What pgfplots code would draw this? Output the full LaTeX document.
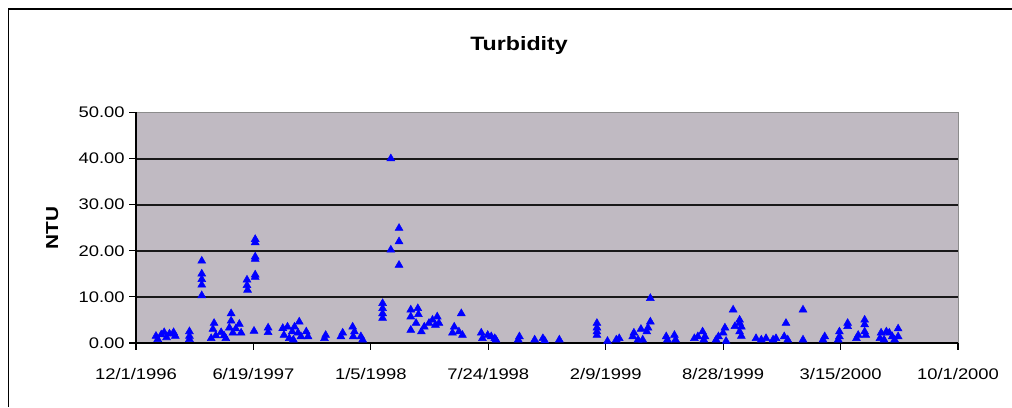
\documentclass[border=0pt]{standalone}
\usepackage{fontspec}
\setmainfont{Liberation Sans}[FakeStretch=1.2]
\usepackage{pgfplots}
\pgfplotsset{compat=1.18}
\definecolor{plotgray}{RGB}{192,186,194}

% days counted from 12/1/1996, turbidity in NTU
\pgfplotstableread{
day ntu
34 1.5
37 0.8
43 1.8
48 2.3
52 1.2
57 2.0
64 2.3
67 1.5
91 2.5
91 1.5
91 0.8
112 17.8
112 15.0
112 13.8
112 12.6
112 10.3
128 1.0
131 3.0
133 4.3
136 1.6
145 2.3
150 1.6
153 1.0
159 3.3
162 6.4
162 4.8
165 2.2
170 3.1
176 4.1
179 2.2
189 13.7
189 12.5
190 11.5
201 2.6
203 22.5
203 21.8
203 18.7
203 18.2
203 14.8
203 14.3
225 3.3
225 2.3
250 3.2
252 1.7
258 3.5
261 1.0
266 2.45
268 0.7
270 3.5
276 2.2
278 4.6
281 1.4
290 2.45
293 1.4
321 1.0
323 1.7
349 1.4
352 2.2
369 3.5
372 2.45
370 1.4
383 1.4
386 0.7
420 8.6
420 7.5
420 6.4
420 5.4
434 40.0
434 20.2
448 24.9
448 22.0
448 16.9
468 7.2
480 7.5
468 5.7
481 6.2
468 2.8
477 4.3
486 2.45
491 3.5
499 4.3
505 5.0
513 5.7
510 3.9
516 4.3
554 6.4
542 3.5
539 2.2
550 2.45
556 1.7
588 2.2
590 1.0
599 1.7
605 1.4
611 1.0
613 0.7
653 1.4
651 0.7
679 0.7
693 1.0
696 0.5
721 0.7
785 4.3
785 3.3
785 2.45
785 1.7
803 0.4
818 0.7
823 1.0
846 1.4
848 2.2
855 0.7
860 3.0
863 0.7
870 2.45
872 3.3
876 9.7
876 4.6
903 1.4
905 0.7
917 1.7
919 0.7
951 1.0
957 1.4
965 2.45
967 0.7
969 1.4
988 0.7
992 1.4
1000 2.2
1003 3.3
1005 0.4
1017 7.2
1020 3.6
1028 4.3
1028 5.0
1028 2.45
1031 3.5
1031 1.5
1056 1.0
1065 0.7
1073 1.0
1085 0.7
1090 1.0
1104 1.4
1107 4.3
1110 0.7
1136 7.2
1136 0.7
1170 0.7
1173 1.4
1198 1.4
1198 2.45
1196 0.7
1212 4.3
1212 3.6
1227 1.0
1230 1.7
1241 5.0
1241 4.0
1241 2.45
1243 1.7
1269 2.2
1267 1.0
1274 0.7
1278 2.45
1283 2.2
1288 1.4
1292 0.7
1298 3.1
1298 1.4
}\turbidity

\begin{document}
\begin{tikzpicture}
\path[use as bounding box] (0,0) rectangle (759pt,305.25pt);
\draw[line width=1.1pt] (6.5pt,0) -- (6.5pt,298.5pt) -- (759pt,298.5pt);
\node[font=\bfseries\fontsize{14.5}{16}\selectfont] at (389.25pt,270.75pt) {Turbidity};
\begin{axis}[
  at={(102pt,48pt)}, anchor=south west,
  scale only axis, width=616.5pt, height=172.9pt,
  xmin=0, xmax=1400, ymin=0, ymax=50,
  xtick={0,200,...,1400},
  xticklabels={12/1/1996,6/19/1997,1/5/1998,7/24/1998,2/9/1999,8/28/1999,3/15/2000,10/1/2000},
  xticklabel style={yshift=-10.5pt},
  ytick={0,10,...,40},
  extra y ticks={50},
  extra y tick style={grid=none},
  ymajorgrids,
  major grid style={black!90, line width=1.5pt},
  axis x line*=bottom, axis y line*=left,
  axis line style={black, line width=1pt},
  tick align=outside, major tick length=5pt,
  tick style={black, line width=0.9pt},
  axis background/.style={fill=plotgray, draw=black!45},
  ticklabel style={font=\fontsize{11.5}{13}\selectfont},
  ylabel={NTU},
  ylabel style={font=\bfseries\fontsize{13}{15}\selectfont,
    at={(axis description cs:-0.102,0.5)}, anchor=center},
  /pgf/number format/.cd, fixed, fixed zerofill, precision=2, assume math mode=true,
]
\addplot[only marks, mark=triangle*, mark size=3.4pt, blue] table[x=day, y=ntu] {\turbidity};
\end{axis}
\end{tikzpicture}
\end{document}
